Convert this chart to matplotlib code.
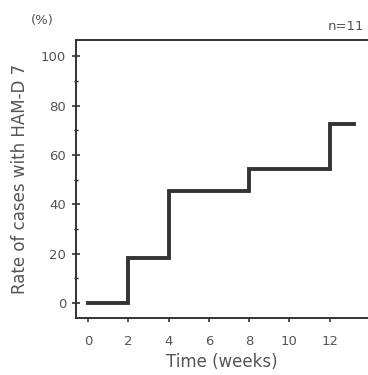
import matplotlib
matplotlib.use('Agg')
import matplotlib.pyplot as plt
from matplotlib.ticker import MultipleLocator

# step data: time (weeks) vs rate of cases (%)
weeks = [0, 2, 4, 8, 12, 13.2]
rate = [0, 18.2, 45.5, 54.5, 72.7, 72.7]
x_ticks = [0, 2, 4, 6, 8, 10, 12]
y_ticks = [0, 20, 40, 60, 80, 100]

text_color = '#555555'
line_color = '#333333'

fig = plt.figure(figsize=(3.68, 3.75), dpi=100)
ax = fig.add_axes([0.2065, 0.152, 0.7935, 0.741])

ax.step(weeks, rate, where='post', color=line_color, linewidth=2.8, solid_joinstyle='miter')

ax.set_xlim(-0.6, 13.9)
ax.set_ylim(-6, 106.5)
ax.set_xticks(x_ticks)
ax.set_yticks(y_ticks)
ax.yaxis.set_minor_locator(MultipleLocator(10))

for s in ['left', 'top', 'bottom']:
    ax.spines[s].set_color(line_color)
    ax.spines[s].set_linewidth(1.4)
ax.spines['right'].set_visible(False)

ax.tick_params(axis='both', colors=line_color, labelcolor=text_color, labelsize=9.5)
ax.tick_params(axis='y', which='major', direction='inout', length=6, width=1.2, pad=4)
ax.tick_params(axis='y', which='minor', direction='inout', length=3, width=1.0)
ax.tick_params(axis='x', direction='out', length=3, width=1.2, pad=9)

ax.set_xlabel('Time (weeks)', color=text_color, fontsize=12, labelpad=4)
ax.set_ylabel('Rate of cases with HAM-D 7', color=text_color, fontsize=12, labelpad=9)

fig.text(0.085, 0.945, '(%)', color=text_color, fontsize=9.5, ha='left', va='center')
fig.text(0.89, 0.93, 'n=11', color=text_color, fontsize=9.5, ha='left', va='center')

fig.savefig('out.png', dpi=100, facecolor='white')
